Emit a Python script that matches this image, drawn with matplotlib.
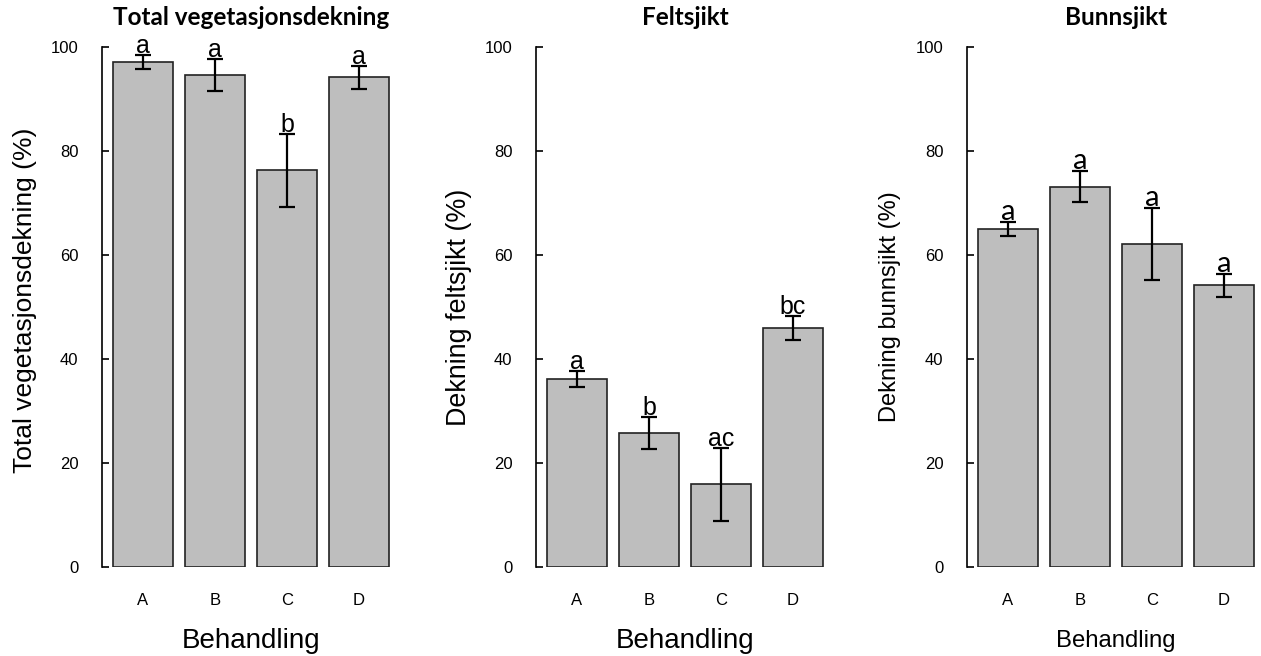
import matplotlib
matplotlib.use("Agg")
import matplotlib.pyplot as plt
import numpy as np

# treatments
behandling = ["A", "B", "C", "D"]

# Total vegetasjonsdekning
total_mean = [97.1, 94.6, 76.3, 94.2]
total_se = [1.4, 3.0, 7.0, 2.2]
total_letters = ["a", "a", "b", "a"]

# Feltsjikt
felt_mean = [36.2, 25.8, 15.9, 45.9]
felt_se = [1.5, 3.1, 7.0, 2.3]
felt_letters = ["a", "b", "ac", "bc"]

# Bunnsjikt
bunn_mean = [65.0, 73.1, 62.1, 54.2]
bunn_se = [1.4, 3.0, 7.0, 2.2]
bunn_letters = ["a", "a", "a", "a"]

# title, ylabel, means, errors, letters, ylabel size, xlabel size, ylabel y-pos
panels = [
    ("Total vegetasjonsdekning", "Total vegetasjonsdekning (%)", total_mean, total_se, total_letters, 19, 20, 0.513),
    ("Feltsjikt", "Dekning feltsjikt (%)", felt_mean, felt_se, felt_letters, 19.4, 20, 0.5),
    ("Bunnsjikt", "Dekning bunnsjikt (%)", bunn_mean, bunn_se, bunn_letters, 17, 17.2, 0.5),
]

plt.rcParams["font.family"] = ["Liberation Sans", "DejaVu Sans"]

W, H = 1261, 656
fig = plt.figure(figsize=(W / 100, H / 100), dpi=100)

lefts = [102, 536, 967]
ax_w, ax_bottom, ax_h = 298, 89, 520

# R barplot geometry: width 1, space 0.2
x = 0.7 + 1.2 * np.arange(len(behandling))

for i, (left, (title, ylab, mean, se, letters, ylab_fs, xlab_fs, ylab_y)) in enumerate(zip(lefts, panels)):
    ax = fig.add_axes([left / W, ax_bottom / H, ax_w / W, ax_h / H])
    ax.bar(x, mean, width=1.0, color="#bebebe", edgecolor="#222222", linewidth=1.2, zorder=2)
    ax.errorbar(x, mean, yerr=se, fmt="none", ecolor="black", elinewidth=1.6,
                capsize=6, capthick=1.6, zorder=3)

    # significance letters just above the error bars
    if i == 2:
        let_kw = dict(fontsize=21, family=["Lato", "DejaVu Sans"])
    else:
        let_kw = dict(fontsize=18)
    for xi, m, s, lab in zip(x, mean, se, letters):
        ax.text(xi, m + s + 0.4, lab, ha="center", va="baseline", zorder=4, **let_kw)

    ax.set_xlim(0.016, 4.984)
    ax.set_ylim(0, 100)
    ax.set_yticks([0, 20, 40, 60, 80, 100])
    ax.set_xticks(x)
    ax.set_xticklabels(behandling)
    ax.tick_params(axis="y", direction="in", length=5, width=1.2, pad=17, labelsize=12)
    ax.tick_params(axis="x", length=0, pad=19, labelsize=12)

    for side in ["top", "right", "bottom"]:
        ax.spines[side].set_visible(False)
    ax.spines["left"].set_bounds(0, 100)
    ax.spines["left"].set_linewidth(1.2)

    ax.set_ylabel(ylab, fontsize=ylab_fs)
    ax.yaxis.label.set_va("center")
    ax.yaxis.set_label_coords(-0.26, ylab_y)
    ax.set_xlabel("Behandling", fontsize=xlab_fs)
    ax.xaxis.label.set_va("center")
    ax.xaxis.set_label_coords(0.5, -0.142)

    ax.text(0.5, 1 + (47 - 18) / ax_h, title, transform=ax.transAxes, ha="center", va="center",
            fontsize=17.5, fontweight="bold", family=["Lato", "DejaVu Sans"])

fig.savefig("out.png", dpi=100)
